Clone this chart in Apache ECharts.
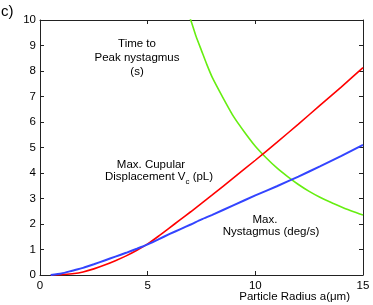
<!DOCTYPE html>
<html>
<head>
<meta charset="utf-8">
<script src="https://cdn.jsdelivr.net/npm/echarts@6/dist/echarts.min.js"></script>
<style>
html,body{margin:0;padding:0;background:#fff;}
#c{width:373px;height:305px;}
</style>
</head>
<body>
<div id="c"></div>
<script>
// Data
var xTicks = [0, 5, 10, 15];
var yTicks = [0,1,2,3,4,5,6,7,8,9,10];
var blueX = [0.5, 1.0, 1.5, 2.0, 2.5, 3.0, 3.5, 4.0, 4.5, 5.0, 5.5, 6.0, 6.5, 7.0, 7.5, 8.0, 9.0, 10.0, 11.0, 12.0, 13.0, 14.0, 15.0];
var blueY = [0.0, 0.06, 0.17, 0.28, 0.42, 0.57, 0.72, 0.87, 1.03, 1.2, 1.4, 1.6, 1.79, 1.98, 2.18, 2.36, 2.74, 3.12, 3.48, 3.86, 4.26, 4.67, 5.10];
var redX = [0.5, 1.0, 1.5, 2.0, 2.5, 3.0, 3.5, 4.0, 4.5, 5.0, 5.5, 6.0, 6.5, 7.0, 7.5, 8.0, 9.0, 10.0, 11.0, 12.0, 13.0, 14.0, 15.0];
var redY = [0.0, 0.01, 0.05, 0.12, 0.24, 0.39, 0.56, 0.75, 0.97, 1.22, 1.52, 1.84, 2.16, 2.48, 2.81, 3.14, 3.82, 4.5, 5.2, 5.92, 6.65, 7.38, 8.13];
var greenX = [6.85, 7.0, 7.25, 7.5, 7.75, 8.0, 8.5, 9.0, 9.5, 10.0, 10.5, 11.0, 11.5, 12.0, 12.5, 13.0, 13.5, 14.0, 14.5, 15.0];
var greenY = [10.3, 10.0, 9.35, 8.8, 8.25, 7.75, 6.95, 6.2, 5.6, 5.05, 4.6, 4.2, 3.86, 3.55, 3.28, 3.05, 2.85, 2.67, 2.5, 2.35];

function pairs(xs, ys){ return xs.map(function(x,i){ return [x, ys[i]]; }); }

var FONT = 'Liberation Sans, Arial, sans-serif';
var FS = 11.5;
var axisColor = '#222';
var chart = echarts.init(document.getElementById('c'), null, {renderer:'canvas'});

function xAx(pos, show){
  return {
    type:'value', position:pos, min:0, max:15, interval:5,
    axisLine:{show:true, onZero:false, lineStyle:{color:axisColor, width:1}},
    axisTick:{show:true, inside:true, length:4, lineStyle:{color:axisColor}},
    axisLabel:{show:show, color:'#000', fontFamily:FONT, fontSize:FS, margin:5,
      formatter:function(v){ return xTicks.indexOf(v)>=0 ? String(v) : ''; }},
    splitLine:{show:false}
  };
}
function yAx(pos, show){
  return {
    type:'value', position:pos, min:0, max:10, interval:1,
    axisLine:{show:true, onZero:false, lineStyle:{color:axisColor, width:1}},
    axisTick:{show:true, inside:true, length:4, lineStyle:{color:axisColor}},
    axisLabel:{show:show, color:'#000', fontFamily:FONT, fontSize:FS, margin:4,
      formatter:function(v){ return yTicks.indexOf(v)>=0 ? String(v) : ''; }},
    splitLine:{show:false}
  };
}
function txt(x, y, s, align){
  return {type:'text', x:x, y:y, style:{text:s, font:FS+'px '+FONT, fill:'#000', align:align||'center', verticalAlign:'middle'}};
}

var option = {
  animation:false,
  backgroundColor:'#fff',
  grid:{left:40, right:10, top:20, bottom:30, containLabel:false},
  xAxis:[xAx('bottom', true), xAx('top', false)],
  yAxis:[yAx('left', true), yAx('right', false)],
  series:[
    {type:'line', data:pairs(greenX, greenY), smooth:0.2, showSymbol:false, clip:true,
     lineStyle:{color:'#66ee11', width:1.6}},
    {type:'line', data:pairs(redX, redY), smooth:0.2, showSymbol:false, clip:true,
     lineStyle:{color:'#ff0000', width:1.6}},
    {type:'line', data:pairs(blueX, blueY), smooth:0.2, showSymbol:false, clip:true,
     lineStyle:{color:'#3344ff', width:2}}
  ],
  graphic:[
    {type:'text', x:1, y:12, style:{text:'c)', font:'15px '+FONT, fill:'#000', align:'left', verticalAlign:'middle'}},
    txt(137, 44, 'Time to'),
    txt(137, 58, 'Peak nystagmus'),
    txt(137, 72, '(s)'),
    txt(151, 165, 'Max. Cupular'),
    {type:'text', x:159, y:177, style:{
      text:'Displacement V{sub|c} (pL)', font:FS+'px '+FONT, fill:'#000', align:'center', verticalAlign:'middle',
      rich:{sub:{fontSize:8, fontFamily:FONT, fill:'#000', padding:[9,0,0,0]}}}},
    txt(265, 220, 'Max.'),
    txt(271, 232, 'Nystagmus (deg/s)'),
    txt(350, 297, 'Particle Radius a(\u03bcm)', 'right')
  ]
};
chart.setOption(option);
</script>
</body>
</html>
